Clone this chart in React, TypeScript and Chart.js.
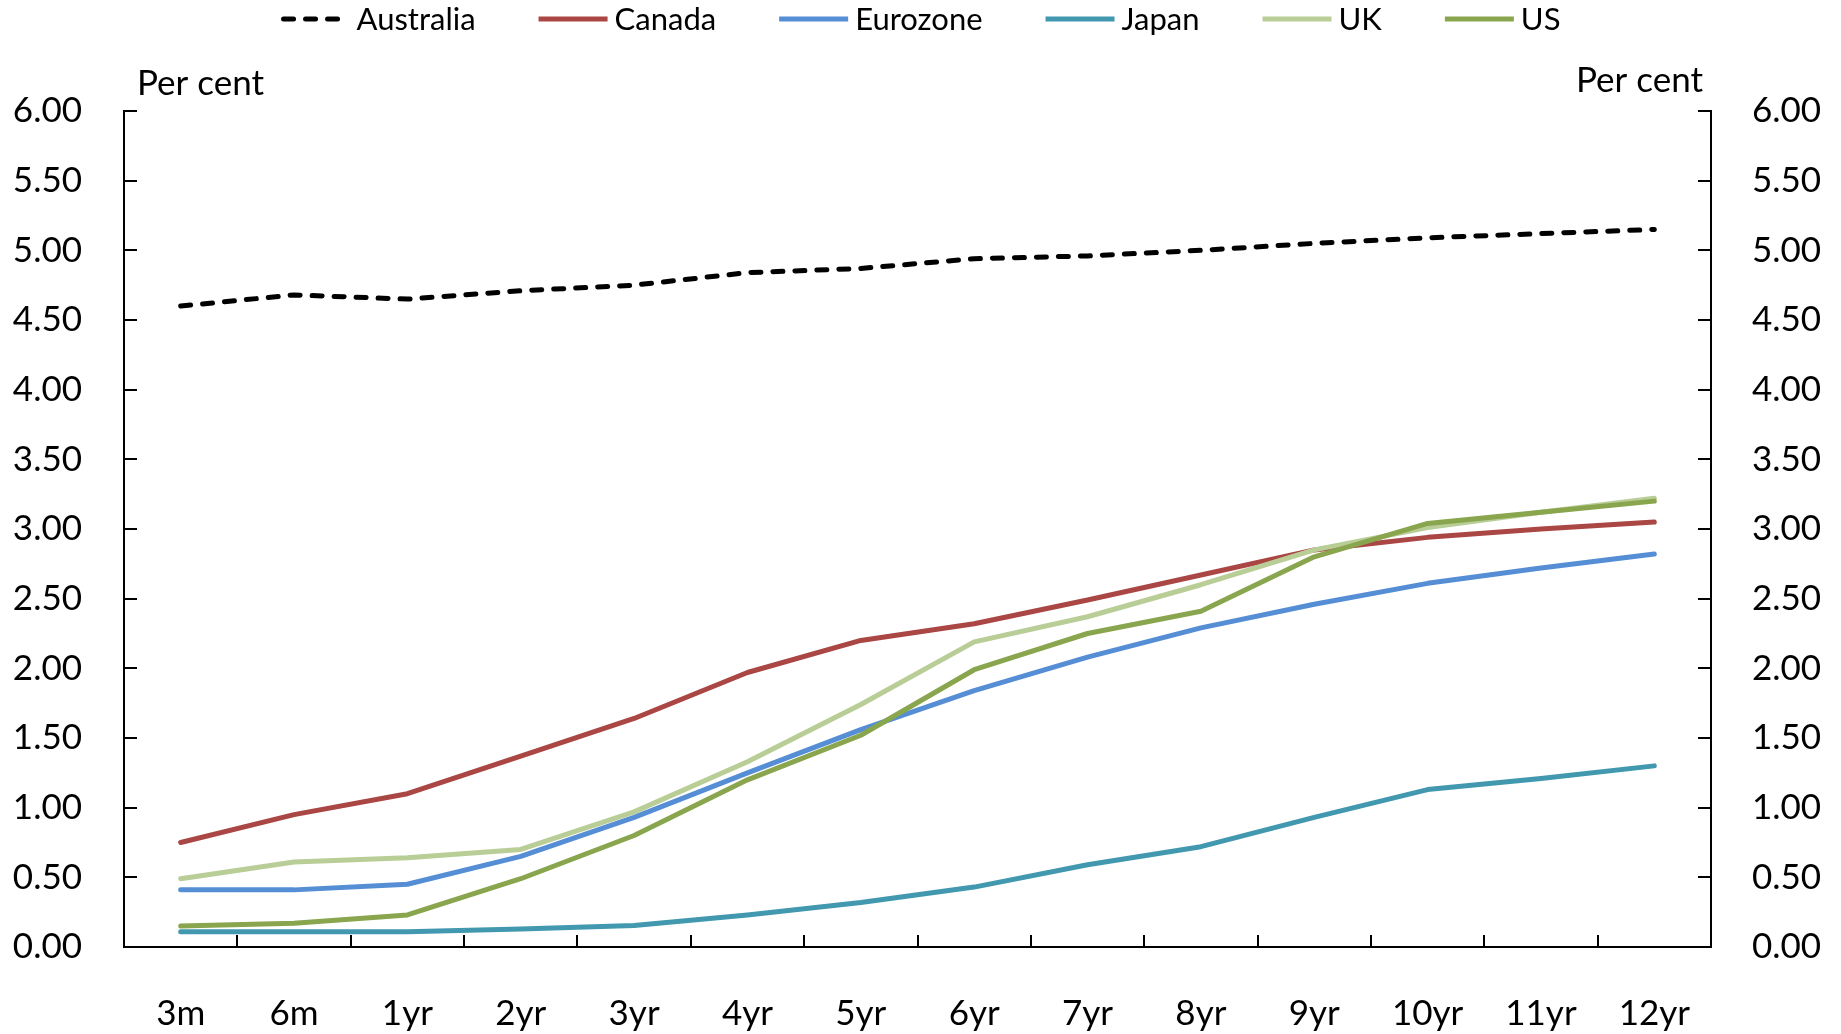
import React, { useEffect, useRef } from 'react';
import { Chart, registerables } from 'chart.js';

Chart.register(...registerables);

const categories = ['3m', '6m', '1yr', '2yr', '3yr', '4yr', '5yr', '6yr', '7yr', '8yr', '9yr', '10yr', '11yr', '12yr'];
const australia = [4.60, 4.68, 4.65, 4.71, 4.75, 4.84, 4.87, 4.94, 4.96, 5.00, 5.05, 5.09, 5.12, 5.15];
const canada = [0.75, 0.95, 1.10, 1.37, 1.64, 1.97, 2.20, 2.32, 2.49, 2.67, 2.85, 2.94, 3.00, 3.05];
const eurozone = [0.41, 0.41, 0.45, 0.65, 0.93, 1.25, 1.56, 1.84, 2.08, 2.29, 2.46, 2.61, 2.72, 2.82];
const japan = [0.11, 0.11, 0.11, 0.13, 0.155, 0.23, 0.32, 0.43, 0.59, 0.72, 0.93, 1.13, 1.21, 1.30];
const uk = [0.49, 0.61, 0.64, 0.70, 0.97, 1.33, 1.74, 2.19, 2.37, 2.60, 2.85, 3.01, 3.12, 3.22];
const us = [0.15, 0.17, 0.23, 0.49, 0.80, 1.20, 1.52, 1.99, 2.25, 2.41, 2.80, 3.04, 3.12, 3.20];

const seriesNames = ['Australia', 'Canada', 'Eurozone', 'Japan', 'UK', 'US'];
const seriesColors = ['#000000', '#AA4643', '#558ED5', '#4198AF', '#B9CD96', '#89A54E'];
const yMin = 0;
const yMax = 6;
const yStep = 0.5;
const unitLabel = 'Per cent';

const FONT = 'Lato';

const customLegend = {
  id: 'customLegend',
  afterDraw(chart: any) {
    const ctx = chart.ctx;
    const datasets = chart.data.datasets;
    ctx.save();
    ctx.font = `31px ${FONT}`;
    const lineW = 69;
    const gapText = 7;
    const gapItem = 63;
    const widths = datasets.map((d: any) => ctx.measureText(d.label).width);
    let total = 0;
    widths.forEach((w: number, i: number) => {
      total += lineW + gapText + w + (i < widths.length - 1 ? gapItem : 0);
    });
    let x = (chart.width - total) / 2;
    const yLine = 19;
    datasets.forEach((d: any, i: number) => {
      ctx.beginPath();
      ctx.lineWidth = 5;
      ctx.strokeStyle = d.borderColor;
      ctx.lineCap = d.borderDash ? 'round' : 'butt';
      ctx.setLineDash(d.borderDash ? [10, 12] : []);
      ctx.moveTo(x + (d.borderDash ? 3 : 0), yLine);
      ctx.lineTo(x + lineW, yLine);
      ctx.stroke();
      ctx.setLineDash([]);
      ctx.fillStyle = '#000';
      ctx.textAlign = 'left';
      ctx.textBaseline = 'alphabetic';
      ctx.fillText(d.label, x + lineW + gapText, 30);
      x += lineW + gapText + widths[i] + gapItem;
    });
    ctx.restore();
  },
};

const unitLabels = {
  id: 'unitLabels',
  afterDraw(chart: any) {
    const ctx = chart.ctx;
    const area = chart.chartArea;
    ctx.save();
    ctx.font = `35px ${FONT}`;
    ctx.fillStyle = '#000';
    ctx.textBaseline = 'alphabetic';
    ctx.textAlign = 'left';
    ctx.fillText(unitLabel, area.left + 13, 95);
    ctx.textAlign = 'right';
    ctx.fillText(unitLabel, area.right - 8, 92);
    ctx.restore();
  },
};

export default function App() {
  const ref = useRef<HTMLCanvasElement>(null);

  useEffect(() => {
    if (!ref.current) return;
    const seriesValues = [australia, canada, eurozone, japan, uk, us];
    const axisStyle = (pos: 'left' | 'right', padding: number, width: number) => ({
      type: 'linear' as const,
      position: pos,
      min: yMin,
      max: yMax,
      ticks: {
        stepSize: yStep,
        callback: (v: any) => Number(v).toFixed(2),
        font: { size: 35, family: FONT },
        color: '#000',
        padding,
      },
      grid: { drawOnChartArea: false, drawTicks: true, tickLength: -13, color: '#000', lineWidth: 2 },
      border: { color: '#000', width: 2 },
      afterFit(s: any) {
        s.width = width;
      },
    });
    const chart = new Chart(ref.current, {
      type: 'line',
      data: {
        labels: categories,
        datasets: seriesNames.map((name, i) => ({
          label: name,
          data: seriesValues[i],
          borderColor: seriesColors[i],
          backgroundColor: seriesColors[i],
          borderWidth: 5,
          borderDash: i === 0 ? [10, 12] : undefined,
          borderCapStyle: 'round' as const,
          borderJoinStyle: 'round' as const,
          pointRadius: 0,
          tension: 0,
          yAxisID: 'y',
          order: seriesNames.length - i,
        })),
      },
      options: {
        responsive: false,
        animation: false,
        devicePixelRatio: 1,
        layout: { padding: { top: 111, left: 0, right: 0, bottom: 0 } },
        plugins: { legend: { display: false }, tooltip: { enabled: false } },
        scales: {
          x: {
            type: 'category',
            offset: true,
            grid: { offset: true, drawOnChartArea: false, drawTicks: true, tickLength: -12, color: '#000', lineWidth: 2 },
            border: { color: '#000', width: 2 },
            ticks: { font: { size: 35, family: FONT }, color: '#000', padding: 58, maxRotation: 0, autoSkip: false },
            afterFit(s: any) {
              s.height = 87;
            },
          },
          y: axisStyle('left', 55, 124),
          y2: axisStyle('right', 54, 130),
        },
      },
      plugins: [customLegend, unitLabels],
    });
    return () => chart.destroy();
  }, []);

  return (
    <div style={{ position: 'absolute', left: 0, top: 0, width: 1841, height: 1034, background: '#fff' }}>
      <canvas ref={ref} width={1841} height={1034} style={{ display: 'block' }} />
    </div>
  );
}
